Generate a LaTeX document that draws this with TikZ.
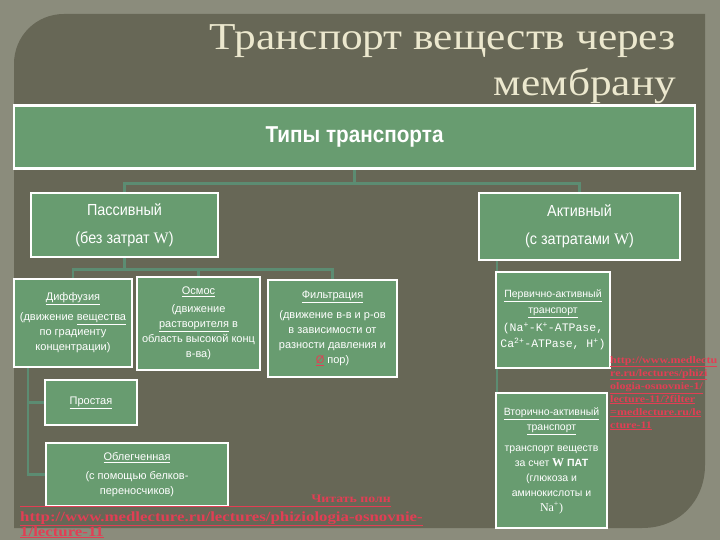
\documentclass[tikz,border=0pt]{standalone}
\usepackage{fontspec}
\setmainfont{Liberation Sans}
\newfontfamily\titlefont[FakeStretch=1.14]{Liberation Serif}
\newfontfamily\wfont{Liberation Serif}
\newfontfamily\narrowfont[FakeStretch=0.9]{Liberation Sans}
\newfontfamily\slabfont{Liberation Mono}
\newfontfamily\linkfont[FakeStretch=1.2]{Liberation Serif}
\usetikzlibrary{backgrounds}
\definecolor{outerbg}{RGB}{139,140,124}
\definecolor{panel}{RGB}{103,103,86}
\definecolor{boxgreen}{RGB}{104,156,112}
\definecolor{conn}{RGB}{92,140,114}
\definecolor{titlec}{RGB}{236,232,206}
\definecolor{linkred}{RGB}{226,62,84}
\tikzset{
  gbox/.style={draw=white, line width=2.5pt, fill=boxgreen, text=white,
    align=center, inner sep=0pt, anchor=center},
  conline/.style={draw=conn, line width=2.5pt},
  smalltxt/.style={font=\fontsize{11}{15}\selectfont},
  redlink/.style={text=linkred, inner sep=0pt},
  titletxt/.style={anchor=base east, text=titlec, inner sep=0pt,
    font=\titlefont\fontsize{38}{40}\selectfont},
}
\begin{document}
\begin{tikzpicture}[x=1pt,y=-1pt]
\useasboundingbox (0,0) rectangle (720,540);

% title
\node[titletxt] (t1) at (676,50) {Транспорт веществ через};
\node[titletxt] (t2) at (676,96) {мембрану};

% boxes
\node[gbox, minimum width=681pt, minimum height=63pt,
  font=\narrowfont\bfseries\fontsize{23}{24}\selectfont] (hdr) at (354.5,137) {Типы транспорта};
\node[gbox, minimum width=187pt, minimum height=64pt,
  font=\narrowfont\fontsize{16}{28}\selectfont] (pas) at (124.5,225)
  {Пассивный\\(без затрат {\wfont W})};
\node[gbox, minimum width=201pt, minimum height=67pt,
  font=\narrowfont\fontsize{16}{28}\selectfont] (act) at (579.5,226.5)
  {Активный\\(с затратами {\wfont W})};

\node[gbox, smalltxt, minimum width=118pt, minimum height=88pt] (dif) at (73,323)
  {\underline{Диффузия}\\[5pt](движение \underline{вещества}\\по градиенту\\концентрации)};
\node[gbox, smalltxt, minimum width=123pt, minimum height=93pt] (osm) at (198.5,323.5)
  {\underline{Осмос}\\[3pt](движение\\\underline{растворителя} в\\область высокой конц\\в-ва)};
\node[gbox, smalltxt, minimum width=129pt, minimum height=97pt] (fil) at (332.5,328.5)
  {\underline{Фильтрация}\\[5pt](движение в-в и р-ов\\в зависимости от\\разности давления и\\\textcolor{linkred}{\underline{Ø}} пор)};
\node[gbox, smalltxt, minimum width=92pt, minimum height=45pt] (sim) at (91,402.5)
  {\underline{Простая}};
\node[gbox, smalltxt, minimum width=182pt, minimum height=63pt] (fac) at (137,474.5)
  {\underline{Облегченная}\\[4pt](с помощью белков-\\переносчиков)};
\node[gbox, font=\fontsize{10.5}{16}\selectfont, minimum width=114pt, minimum height=96pt] (pri) at (553,320)
  {\underline{Первично-активный}\\\underline{транспорт}\\[2pt]{\slabfont\fontsize{11.5}{15}\selectfont (Na\textsuperscript{+}-K\textsuperscript{+}-ATPase,}\\{\slabfont\fontsize{11.5}{15}\selectfont Ca\textsuperscript{2+}-ATPase, H\textsuperscript{+})}};
\node[gbox, font=\fontsize{10.5}{15}\selectfont, minimum width=111pt, minimum height=135pt] (sec) at (551.5,460.5)
  {\underline{Вторично-активный}\\\underline{транспорт}\\[6pt]транспорт веществ\\за счет {\wfont\bfseries\large W} \textbf{ПАТ}\\(глюкоза и\\аминокислоты и\\{\wfont\large Na\textsuperscript{+})}};

% background and connectors
\begin{scope}[on background layer]
\fill[outerbg] (0,0) rectangle (720,540);
\fill[panel] (14,528) -- (14,64) .. controls (14,36) and (36,14) .. (64,14)
  -- (705,14) -- (705,465) .. controls (705,500) and (680,528) .. (642,528) -- cycle;
\draw[conline] (hdr.south) -- ++(0,14) -| (pas.north);
\draw[conline] (hdr.south) -- ++(0,14) -| (act.north);
\draw[conline] (pas.south) -- ++(0,11) -| (dif.north);
\draw[conline] (pas.south) -- ++(0,11) -| (osm.north);
\draw[conline] (pas.south) -- ++(0,11) -| (fil.north);
\coordinate (dl) at ([xshift=15pt]dif.south west);
\draw[conline] (dl) |- (sim.west);
\draw[conline] (dl) |- (fac.west);
\coordinate (al) at ([xshift=19pt]act.south west);
\draw[conline] (al) -- (al |- sec.north);
\end{scope}

% red links
\node[redlink, anchor=north west, align=left,
  font=\linkfont\bfseries\fontsize{10}{13}\selectfont] (rl) at (610,356)
  {\underline{http://www.medlectu}\\\underline{re.ru/lectures/phizi}\\\underline{ologia-osnovnie-1/}\\\underline{lecture-11/?filter}\\\underline{=medlecture.ru/le}\\\underline{cture-11}};
\node[redlink, anchor=base east, font=\linkfont\bfseries\fontsize{11.5}{14}\selectfont] (rd) at (391,502) {Читать полн};
\coordinate (ulA) at (20,506);
\coordinate (ulB) at (391,506);
\draw[linkred, line width=1pt] (ulA) -- (ulB);
\node[redlink, anchor=base west, font=\linkfont\bfseries\fontsize{14}{14}\selectfont] (ru1) at (20,521)
  {\underline{http://www.medlecture.ru/lectures/phiziologia-osnovnie-}};
\node[redlink, anchor=base west, font=\linkfont\bfseries\fontsize{14}{14}\selectfont] (ru2) at (20,536)
  {\underline{1/lecture-11}};
\end{tikzpicture}
\end{document}
